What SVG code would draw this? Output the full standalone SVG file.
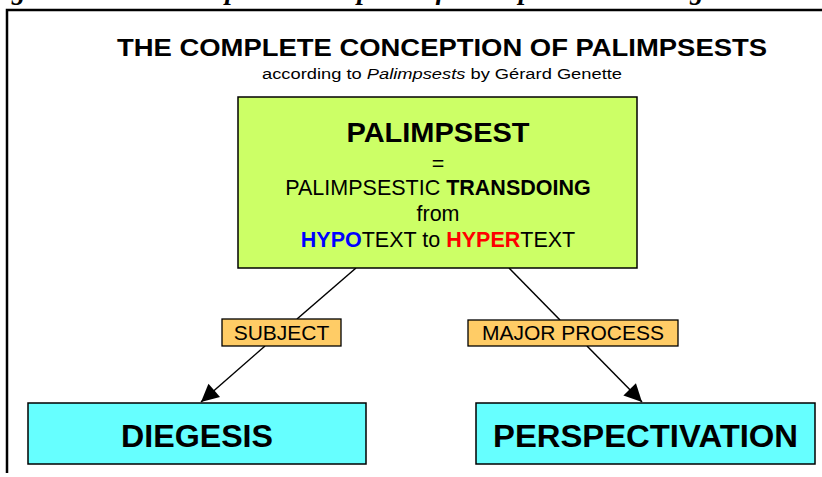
<svg xmlns="http://www.w3.org/2000/svg" width="822" height="477" viewBox="0 0 822 477">
<style>
.sans{font-family:"Liberation Sans",Arial,Helvetica,sans-serif;fill:#000}
.b{font-weight:bold}
.box{stroke:#000;stroke-width:1.5}
.lbl{fill:#FFCC66;stroke:#000;stroke-width:1.3}
.edge{stroke:#000;stroke-width:1.5;fill:none}
</style>
<defs>
<marker id="arr" viewBox="0 0 10 10" refX="10" refY="5" markerWidth="11" markerHeight="11" markerUnits="userSpaceOnUse" orient="auto" overflow="visible">
<path d="M0,0 L10,5 L0,10 z" fill="#000" transform="scale(1.6)" transform-origin="10 5"/>
</marker>
</defs>
<rect width="822" height="477" fill="#fff"/>
<text x="-14" y="-1.5" font-family="'Liberation Serif','Times New Roman',serif" font-weight="bold" font-style="italic" font-size="27" textLength="840" lengthAdjust="spacingAndGlyphs">Figure 1.1: The Complete Conception of Palimpsests according to Genette</text>
<g id="frame" fill="none" stroke="#000" stroke-width="2.5">
<path d="M7,473 V10 H822"/>
</g>
<g id="title">
<text class="sans b" x="442" y="56" font-size="24" text-anchor="middle" textLength="650" lengthAdjust="spacingAndGlyphs">THE COMPLETE CONCEPTION OF PALIMPSESTS</text>
<text class="sans" x="442" y="79" font-size="15.5" text-anchor="middle" textLength="360" lengthAdjust="spacingAndGlyphs">according to <tspan font-style="italic">Palimpsests</tspan> by Gérard Genette</text>
</g>
<g id="connectors">
<path class="edge" d="M356,268 L297,319"/>
<path class="edge" d="M265,346 L201,402" marker-end="url(#arr)"/>
<path class="edge" d="M509,268 L560,320"/>
<path class="edge" d="M587,346 L642,402" marker-end="url(#arr)"/>
</g>
<g id="palimpsest">
<rect class="box" x="238" y="97" width="399" height="171" fill="#CCFF66"/>
<text class="sans b" x="438" y="142" font-size="28" text-anchor="middle" textLength="183" lengthAdjust="spacingAndGlyphs">PALIMPSEST</text>
<text class="sans" x="438" y="171" font-size="21.5" text-anchor="middle">=</text>
<text class="sans" x="438" y="195" font-size="21.5" text-anchor="middle">PALIMPSESTIC <tspan class="b">TRANSDOING</tspan></text>
<text class="sans" x="438" y="221" font-size="21.5" text-anchor="middle">from</text>
<text class="sans" x="438" y="247" font-size="21.5" text-anchor="middle"><tspan class="b" fill="#0000FF">HYPO</tspan>TEXT to <tspan class="b" fill="#FF0000">HYPER</tspan>TEXT</text>
</g>
<g id="label-subject">
<rect class="lbl" x="222" y="319" width="119" height="27"/>
<text class="sans" x="281.5" y="340" font-size="21" text-anchor="middle">SUBJECT</text>
</g>
<g id="label-major-process">
<rect class="lbl" x="468" y="320" width="210" height="26"/>
<text class="sans" x="573" y="340" font-size="21" text-anchor="middle">MAJOR PROCESS</text>
</g>
<g id="diegesis">
<rect class="box" x="28" y="403" width="338" height="61" fill="#66FFFF"/>
<text class="sans b" x="197" y="447" font-size="32" text-anchor="middle" textLength="152" lengthAdjust="spacingAndGlyphs">DIEGESIS</text>
</g>
<g id="perspectivation">
<rect class="box" x="476" y="403" width="339" height="61" fill="#66FFFF"/>
<text class="sans b" x="645.5" y="447" font-size="32" text-anchor="middle" textLength="305" lengthAdjust="spacingAndGlyphs">PERSPECTIVATION</text>
</g>
</svg>
